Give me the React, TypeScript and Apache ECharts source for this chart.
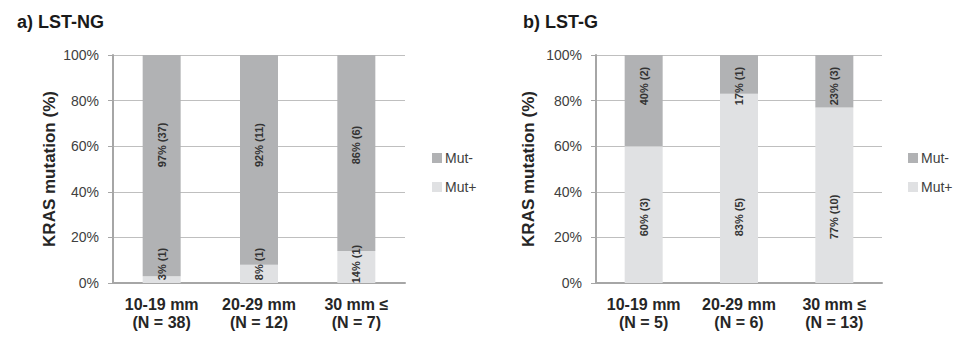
import React, { useEffect, useRef } from "react";
import * as echarts from "echarts";

const categoriesA = ["10-19 mm\n(N = 38)", "20-29 mm\n(N = 12)", "30 mm ≤\n(N = 7)"];
const mutPosA = [3, 8, 14];
const mutNegA = [97, 92, 86];
const countPosA = [1, 1, 1];
const countNegA = [37, 11, 6];

const categoriesB = ["10-19 mm\n(N = 5)", "20-29 mm\n(N = 6)", "30 mm ≤\n(N = 13)"];
const mutPosB = [60, 83, 77];
const mutNegB = [40, 17, 23];
const countPosB = [3, 5, 10];
const countNegB = [2, 1, 3];

const yTicks = [0, 20, 40, 60, 80, 100];

const titles = ["a) LST-NG", "b) LST-G"];
const seriesNames = ["Mut-", "Mut+"];

const FONT = "Liberation Sans, Arial, sans-serif";
const COL_NEG = "#b1b2b4";
const COL_POS = "#e0e1e3";

export default function App() {
  const ref = useRef<HTMLDivElement>(null);
  useEffect(() => {
    if (!ref.current) return;
    const chart = echarts.init(ref.current, undefined, { renderer: "svg" });

    const grids = [
      { left: 113, top: 55, width: 292, height: 228 },
      { left: 596, top: 55, width: 286, height: 228 },
    ];
    const mkX = (cats: string[], gi: number) => ({
      type: "category",
      gridIndex: gi,
      data: cats,
      axisLine: { lineStyle: { color: "#a6a6a6", width: 2 } },
      axisTick: { show: false },
      axisLabel: {
        interval: 0,
        margin: 12,
        fontFamily: FONT,
        fontSize: 16,
        fontWeight: "bold",
        color: "#262626",
        lineHeight: 18,
      },
    });
    const mkY = (gi: number, gap: number) => ({
      type: "value",
      gridIndex: gi,
      min: yTicks[0],
      max: yTicks[yTicks.length - 1],
      interval: 20,
      name: "KRAS mutation (%)",
      nameLocation: "middle",
      nameGap: gap,
      nameTextStyle: { fontFamily: FONT, fontSize: 17, fontWeight: "bold", color: "#262626" },
      axisLine: { show: true, lineStyle: { color: "#a6a6a6", width: 2 } },
      axisTick: { show: true, length: 5, lineStyle: { color: "#a6a6a6" } },
      axisLabel: {
        formatter: (v: number) => v + "%",
        fontFamily: FONT,
        fontSize: 14,
        color: "#404040",
        margin: 14,
      },
      splitLine: { lineStyle: { color: "#bfbfbf", width: 1 } },
    });

    const labelBase = {
      show: true,
      rotate: 90,
      align: "center",
      verticalAlign: "middle",
      fontFamily: FONT,
      fontSize: 11,
      fontWeight: "bold",
      color: "#333333",
    };

    const mkPos = (vals: number[], counts: number[], gi: number, off: number) => ({
      name: seriesNames[1],
      type: "bar",
      stack: "s" + gi,
      xAxisIndex: gi,
      yAxisIndex: gi,
      barWidth: 38,
      itemStyle: { color: COL_POS },
      data: vals,
      labelLayout: { hideOverlap: false },
      label: {
        ...labelBase,
        position: "insideBottom",
        distance: off,
        formatter: (p: any) => `${p.value}% (${counts[p.dataIndex]})`,
      },
    });
    const mkNeg = (vals: number[], counts: number[], gi: number, fromTop: number) => ({
      name: seriesNames[0],
      type: "bar",
      stack: "s" + gi,
      xAxisIndex: gi,
      yAxisIndex: gi,
      barWidth: 38,
      itemStyle: { color: COL_NEG },
      data: vals,
      label: {
        ...labelBase,
        position: ["50%", fromTop],
        formatter: (p: any) => `${p.value}% (${counts[p.dataIndex]})`,
      },
    });

    const legendBase = {
      orient: "vertical",
      top: 146,
      itemWidth: 10,
      itemHeight: 10,
      itemGap: 15,
      icon: "rect",
      data: seriesNames,
      textStyle: { fontFamily: FONT, fontSize: 14, color: "#404040", padding: [0, 0, 0, -2] },
    };

    chart.setOption({
      animation: false,
      backgroundColor: "#ffffff",
      title: [
        { text: titles[0], left: 12, top: 8, textStyle: { fontFamily: FONT, fontSize: 18, fontWeight: "bold", color: "#1a1a1a" } },
        { text: titles[1], left: 518, top: 8, textStyle: { fontFamily: FONT, fontSize: 18, fontWeight: "bold", color: "#1a1a1a" } },
      ],
      legend: [
        { ...legendBase, left: 427 },
        { ...legendBase, left: 903 },
      ],
      grid: grids,
      xAxis: [mkX(categoriesA, 0), mkX(categoriesB, 1)],
      yAxis: [mkY(0, 55), mkY(1, 59)],
      series: [
        mkPos(mutPosA, countPosA, 0, 19),
        mkNeg(mutNegA, countNegA, 0, 90),
        mkPos(mutPosB, countPosB, 1, 66),
        mkNeg(mutNegB, countNegB, 1, 31),
      ],
    });
    return () => chart.dispose();
  }, []);
  return (
    <div
      ref={ref}
      style={{ position: "fixed", left: 0, top: 0, width: 957, height: 338 }}
    />
  );
}
